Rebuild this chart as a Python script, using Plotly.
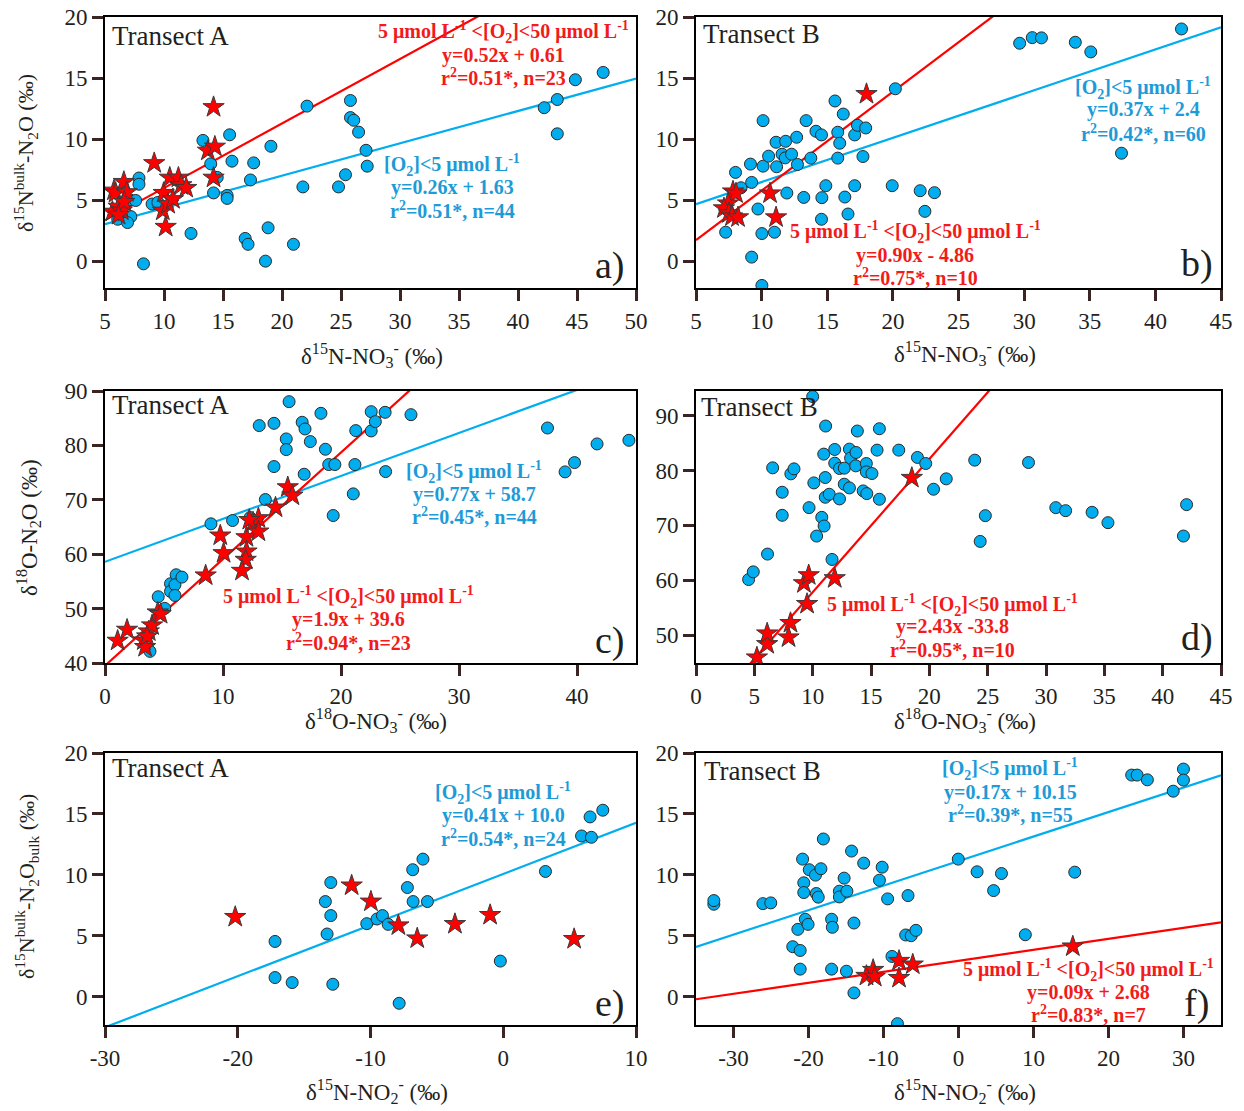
import plotly.graph_objects as go

W, H = 1244, 1111
FONT = "Liberation Serif, Times New Roman, serif"

# ---------------- data ----------------
# Panel a: d15N-NO3 vs d15Nbulk-N2O, Transect A
a_blue_x = [7.88, 7.88, 7.10, 7.60, 7.19, 6.42, 6.08, 6.91, 8.26, 8.99, 9.48, 12.29, 13.30, 13.96, 14.20,
            14.51, 15.56, 15.76, 15.35, 15.35, 16.88, 17.12, 17.33, 17.60, 18.60, 18.82, 19.06, 20.97,
            21.77, 22.12, 24.79, 25.38, 25.80, 25.80, 26.08, 26.49, 27.12, 27.22, 42.22, 43.33, 43.33,
            44.86, 47.22]
a_blue_y = [6.81, 6.30, 5.03, 4.97, 3.65, 3.65, 3.43, 3.16, -0.22, 4.68, 4.81, 2.27, 9.89, 7.97, 5.59,
            6.86, 10.35, 8.19, 5.38, 5.14, 1.86, 1.38, 6.65, 8.05, 0.00, 2.73, 9.41, 1.38,
            6.08, 12.70, 6.08, 7.08, 13.16, 11.76, 11.54, 10.57, 9.08, 7.78, 12.57, 13.24, 10.43,
            14.86, 15.46]
a_red_x = [5.63, 5.76, 5.90, 6.15, 6.42, 6.60, 6.84, 6.63, 6.15, 9.17, 9.97, 9.90, 10.14, 10.35, 10.76,
           10.49, 11.22, 11.46, 11.88, 13.72, 14.31, 14.20, 14.20]
a_red_y = [4.05, 5.78, 5.59, 4.46, 4.14, 6.49, 5.65, 4.86, 3.78, 8.03, 5.59, 4.14, 2.81, 4.68, 5.08,
           6.84, 6.84, 6.22, 6.00, 9.05, 9.38, 12.62, 6.84]

# Panel b: Transect B
b_blue_x = [7.26, 8.01, 8.43, 9.15, 9.24, 9.24, 9.72, 10.11, 10.11, 10.02, 10.02, 10.53, 11.10, 11.14,
            10.98, 11.56, 11.83, 11.80, 11.92, 12.28, 12.67, 12.73, 13.21, 13.39, 13.75, 14.14, 14.56,
            14.59, 14.56, 14.89, 15.59, 15.80, 15.95, 15.80, 16.22, 16.34, 16.58, 17.09, 17.30, 17.09,
            17.72, 17.93, 19.95, 20.19, 22.08, 22.44, 23.17, 29.66, 30.62, 31.32, 33.90, 35.08, 37.42,
            41.99]
b_blue_y = [2.37, 7.27, 6.01, 7.95, 6.45, 0.33, 4.27, 11.51, 7.78, 2.26, -1.99, 8.60, 9.74, 7.73,
            2.37, 8.76, 9.82, 8.46, 5.58, 8.76, 10.15, 7.92, 5.22, 11.51, 8.44, 10.64, 10.34,
            5.20, 3.43, 6.18, 13.12, 10.56, 9.66, 8.44, 12.05, 5.25, 3.86, 10.34, 11.13, 6.18,
            8.57, 10.91, 6.18, 14.12, 5.77, 4.08, 5.61, 17.85, 18.31, 18.29, 17.93, 17.14, 8.84,
            19.02]
b_red_x = [7.82, 8.05, 7.44, 7.13, 7.51, 7.74, 8.20, 10.64, 11.10, 17.99]
b_red_y = [5.71, 5.55, 4.73, 4.33, 3.92, 3.67, 3.59, 5.55, 3.59, 13.69]

# Panel c: d18O-NO3 vs d18O-N2O, Transect A
c_blue_x = [13.07, 14.32, 15.60, 15.36, 15.36, 14.32, 16.71, 16.95, 17.40, 16.88, 18.30, 18.68, 18.96,
            19.48, 19.34, 21.04, 21.25, 21.18, 22.56, 22.56, 22.91, 23.74, 23.78, 25.93, 37.50, 38.99,
            39.79, 41.70, 44.40, 8.98, 10.81, 12.30, 13.59, 4.51, 5.06, 5.55, 5.55, 6.03, 5.93, 5.93,
            6.52, 3.81]
c_blue_y = [83.64, 84.06, 88.04, 81.19, 79.23, 76.11, 84.25, 83.02, 80.70, 74.70, 85.90, 79.29, 76.48,
            76.48, 67.11, 71.09, 82.72, 76.48, 86.20, 82.66, 84.37, 86.08, 75.19, 85.65, 83.20, 75.13,
            76.84, 80.27, 80.94, 65.58, 66.19, 66.74, 70.05, 52.18, 50.04, 54.57, 53.16, 56.22, 54.38,
            52.42, 55.79, 42.14]
c_red_x = [1.07, 1.87, 3.29, 3.40, 3.71, 3.99, 4.47, 8.53, 9.77, 10.05, 11.99, 11.99, 11.92, 11.61,
           12.55, 13.00, 13.00, 14.45, 15.49, 15.88, 12.23, 3.57, 4.71]
c_red_y = [44.10, 46.12, 44.16, 42.94, 45.81, 46.92, 49.30, 56.10, 63.44, 60.20, 63.13, 60.50, 58.97,
           56.95, 65.83, 66.62, 64.17, 68.58, 72.31, 70.78, 66.30, 44.90, 49.00]

# Panel d: Transect B
d_blue_x = [4.51, 4.91, 6.13, 6.57, 7.39, 7.39, 8.13, 8.40, 9.69, 10.00, 10.10, 10.34, 10.78, 10.98,
            10.95, 11.11, 11.08, 11.08, 11.42, 11.66, 11.89, 11.89, 12.30, 12.30, 12.71, 12.71, 13.15,
            13.25, 13.15, 13.72, 13.69, 13.83, 14.60, 14.60, 14.33, 14.64, 15.08, 15.52, 15.72, 15.72,
            17.38, 18.98, 19.69, 20.36, 21.45, 23.89, 24.36, 24.80, 28.50, 30.84, 31.68, 33.95, 35.31,
            41.78, 42.05]
d_blue_y = [60.12, 61.52, 64.76, 80.49, 76.04, 71.83, 79.39, 80.30, 73.23, 93.48, 77.74, 68.05, 71.46,
            69.88, 82.99, 88.11, 78.72, 75.12, 75.67, 63.78, 83.84, 81.34, 80.37, 74.82, 80.43, 77.50,
            83.90, 82.26, 76.83, 83.29, 80.85, 87.20, 81.28, 79.76, 76.28, 75.79, 79.45, 83.72, 87.62,
            74.76, 83.72, 82.38, 81.28, 76.59, 78.48, 81.89, 67.07, 71.77, 81.46, 73.23, 72.68, 72.38,
            70.49, 68.05, 73.78]
d_red_x = [5.22, 6.10, 6.10, 7.93, 8.10, 9.52, 9.25, 9.66, 11.89, 18.50]
d_red_y = [45.91, 48.35, 50.30, 49.57, 52.20, 55.67, 59.45, 60.91, 60.37, 78.66]

# Panel e: d15N-NO2 vs d15Nbulk-N2O, Transect A
e_blue_x = [-17.19, -17.19, -15.90, -13.27, -13.40, -12.99, -12.99, -12.84, -10.28, -9.51, -9.10, -8.67,
            -7.84, -7.22, -6.82, -6.79, -6.05, -5.71, -0.22, 3.18, 5.90, 6.64, 6.54, 7.50]
e_blue_y = [4.55, 1.59, 1.18, 5.16, 7.82, 9.38, 6.67, 1.04, 6.01, 6.39, 6.67, 5.95,
            -0.52, 8.97, 10.43, 7.82, 11.30, 7.82, 2.94, 10.29, 13.20, 13.09, 14.76, 15.31]
e_red_x = [-20.19, -11.42, -9.97, -7.90, -6.48, -3.64, -0.99, 5.34]
e_red_y = [6.56, 9.14, 7.82, 5.87, 4.80, 5.98, 6.72, 4.75]

# Panel f: Transect B
f_blue_x = [-32.62, -32.62, -26.08, -25.03, -22.10, -21.11, -21.11, -21.42, -20.79, -20.63, -20.63,
            -20.42, -20.06, -19.90, -19.07, -18.96, -18.70, -18.34, -18.02, -16.92, -16.82, -16.92,
            -15.25, -15.88, -15.88, -14.88, -14.94, -14.26, -13.94, -13.94, -12.64, -10.54, -10.18,
            -9.45, -8.87, -8.14, -6.73, -7.04, -6.31, -5.68, -0.03, 2.48, 4.68, 5.73, 8.91, 15.50,
            23.09, 23.82, 25.18, 28.63, 29.99, 29.99]
f_blue_y = [7.60, 7.90, 7.65, 7.71, 4.12, 3.81, 2.28, 5.54, 11.30, 9.36, 8.56,
            6.37, 5.95, 10.43, 9.99, 8.48, 8.18, 10.51, 12.95, 6.37, 5.71, 2.28,
            9.74, 8.67, 8.20, 8.67, 2.11, 11.96, 6.06, 0.33, 10.97, 9.57, 10.64,
            8.04, 3.32, -2.19, 8.31, 5.08, 5.02, 5.46, 11.30, 10.26, 8.72, 10.12, 5.10, 10.23,
            18.19, 18.19, 17.80, 16.87, 18.68, 17.78]
f_red_x = [-12.27, -11.38, -11.17, -7.93, -7.93, -6.10, 15.24]
f_red_y = [1.73, 2.22, 1.65, 2.96, 1.56, 2.66, 4.14]

# regression lines as drawn (slope, intercept)
a_blue_fit = [0.265, 1.70]
a_red_fit = [0.528, 0.72]
b_blue_fit = [0.362, 2.86]
b_red_fit = [0.81, -2.32]
c_blue_fit = [0.79, 58.6]
c_red_fit = [1.96, 39.5]
d_red_fit = [2.43, 33.5]
e_blue_fit = [0.419, 10.08]
f_blue_fit = [0.201, 11.14]
f_red_fit = [0.09, 2.96]

# axis ranges / ticks
a_xrange, a_yrange, a_xticks, a_yticks = [5, 50], [-2.2, 20], list(range(5, 51, 5)), list(range(0, 21, 5))
b_xrange, b_yrange, b_xticks, b_yticks = [5, 45], [-2.2, 20], list(range(5, 46, 5)), list(range(0, 21, 5))
c_xrange, c_yrange, c_xticks, c_yticks = [0, 45], [40, 90], list(range(0, 41, 10)), list(range(40, 91, 10))
d_xrange, d_yrange, d_xticks, d_yticks = [0, 45], [44.9, 94.5], list(range(0, 46, 5)), list(range(50, 91, 10))
e_xrange, e_yrange, e_xticks, e_yticks = [-30, 10], [-2.3, 20], list(range(-30, 11, 10)), list(range(0, 21, 5))
f_xrange, f_yrange, f_xticks, f_yticks = [-35, 35], [-2.3, 20], list(range(-30, 31, 10)), list(range(0, 21, 5))

# ---------------- styling ----------------
BLUE = "#00aeef"
BLUE_TXT = "#1e9bd7"
RED = "#ff0000"
RED_TXT = "#f21b1b"
DARK = "#231f20"

LEFT = [105 / W, 636 / W]
RIGHT = [696 / W, 1221 / W]
ROW1 = [1 - 288 / H, 1 - 17 / H]
ROW2 = [1 - 663 / H, 1 - 391 / H]
ROW3 = [1 - 1025 / H, 1 - 753 / H]

fig = go.Figure()

panels = [
    (1, LEFT, ROW1, a_xrange, a_yrange, a_xticks, a_yticks, a_blue_x, a_blue_y, a_red_x, a_red_y, [a_blue_fit], [a_red_fit]),
    (2, RIGHT, ROW1, b_xrange, b_yrange, b_xticks, b_yticks, b_blue_x, b_blue_y, b_red_x, b_red_y, [b_blue_fit], [b_red_fit]),
    (3, LEFT, ROW2, c_xrange, c_yrange, c_xticks, c_yticks, c_blue_x, c_blue_y, c_red_x, c_red_y, [c_blue_fit], [c_red_fit]),
    (4, RIGHT, ROW2, d_xrange, d_yrange, d_xticks, d_yticks, d_blue_x, d_blue_y, d_red_x, d_red_y, [], [d_red_fit]),
    (5, LEFT, ROW3, e_xrange, e_yrange, e_xticks, e_yticks, e_blue_x, e_blue_y, e_red_x, e_red_y, [e_blue_fit], []),
    (6, RIGHT, ROW3, f_xrange, f_yrange, f_xticks, f_yticks, f_blue_x, f_blue_y, f_red_x, f_red_y, [f_blue_fit], [f_red_fit]),
]

axis_common = dict(
    showline=True, linecolor="black", linewidth=2, mirror=True,
    ticks="outside", ticklen=11, tickwidth=2.5, tickcolor="#3b2424",
    showgrid=False, zeroline=False, automargin=False,
    tickfont=dict(family=FONT, size=23, color=DARK),
)

layout_axes = {}
for (i, xd, yd, xr, yr, xt, yt, bx, by, rx, ry, bfits, rfits) in panels:
    xa = "x" if i == 1 else f"x{i}"
    ya = "y" if i == 1 else f"y{i}"
    for (m, c) in bfits:
        fig.add_trace(go.Scatter(x=xr, y=[m * v + c for v in xr], mode="lines",
                                 line=dict(color=BLUE, width=2.2), xaxis=xa, yaxis=ya,
                                 showlegend=False, hoverinfo="skip"))
    for (m, c) in rfits:
        fig.add_trace(go.Scatter(x=xr, y=[m * v + c for v in xr], mode="lines",
                                 line=dict(color=RED, width=2.2), xaxis=xa, yaxis=ya,
                                 showlegend=False, hoverinfo="skip"))
    fig.add_trace(go.Scatter(x=bx, y=by, mode="markers",
                             marker=dict(symbol="circle", size=12, color=BLUE,
                                         line=dict(color="#2a2a2a", width=1)),
                             xaxis=xa, yaxis=ya, showlegend=False))
    fig.add_trace(go.Scatter(x=rx, y=ry, mode="markers",
                             marker=dict(symbol="star", size=16, color=RED,
                                         line=dict(color="#3a3a3a", width=1)),
                             xaxis=xa, yaxis=ya, showlegend=False))
    layout_axes["xaxis" if i == 1 else f"xaxis{i}"] = dict(
        axis_common, domain=xd, range=xr, tickmode="array", tickvals=xt,
        ticktext=[str(v) for v in xt], anchor=ya)
    layout_axes["yaxis" if i == 1 else f"yaxis{i}"] = dict(
        axis_common, domain=yd, range=yr, tickmode="array", tickvals=yt,
        ticktext=[str(v) for v in yt], anchor=xa)

annotations = []


def txt(px, py, text, color=DARK, size=20, xanchor="center", angle=0):
    annotations.append(dict(
        x=px / W, y=1 - py / H, xref="paper", yref="paper", text=text,
        showarrow=False, xanchor=xanchor, yanchor="middle", textangle=angle,
        font=dict(family=FONT, size=size, color=color)))


O2_RED = "<b>5 μmol L<sup>-1</sup> &lt;[O<sub>2</sub>]&lt;50 μmol L<sup>-1</sup></b>"
O2_BLUE = "<b>[O<sub>2</sub>]&lt;5 μmol L<sup>-1</sup></b>"
TS = 20
TR = 27

# panel a
txt(110, 36, "Transect A", size=TR, xanchor="left")
txt(503, 32, O2_RED, RED_TXT, TS)
txt(503, 55, "<b>y=0.52x + 0.61</b>", RED_TXT, TS)
txt(503, 77, "<b>r<sup>2</sup>=0.51*, n=23</b>", RED_TXT, TS)
txt(452, 165, O2_BLUE, BLUE_TXT, TS)
txt(452, 188, "<b>y=0.26x + 1.63</b>", BLUE_TXT, TS)
txt(452, 210, "<b>r<sup>2</sup>=0.51*, n=44</b>", BLUE_TXT, TS)
txt(627, 265, "a)", size=38, xanchor="right")
# panel b
txt(701, 34, "Transect B", size=TR, xanchor="left")
txt(1143, 88, O2_BLUE, BLUE_TXT, TS)
txt(1143, 110, "<b>y=0.37x + 2.4</b>", BLUE_TXT, TS)
txt(1143, 133, "<b>r<sup>2</sup>=0.42*, n=60</b>", BLUE_TXT, TS)
txt(915, 232, O2_RED, RED_TXT, TS)
txt(915, 255, "<b>y=0.90x - 4.86</b>", RED_TXT, TS)
txt(915, 277, "<b>r<sup>2</sup>=0.75*, n=10</b>", RED_TXT, TS)
txt(1215, 263, "b)", size=38, xanchor="right")
# panel c
txt(110, 405, "Transect A", size=TR, xanchor="left")
txt(474, 472, O2_BLUE, BLUE_TXT, TS)
txt(474, 494, "<b>y=0.77x + 58.7</b>", BLUE_TXT, TS)
txt(474, 516, "<b>r<sup>2</sup>=0.45*, n=44</b>", BLUE_TXT, TS)
txt(349, 597, O2_RED, RED_TXT, TS)
txt(349, 619, "<b>y=1.9x + 39.6</b>", RED_TXT, TS)
txt(349, 642, "<b>r<sup>2</sup>=0.94*, n=23</b>", RED_TXT, TS)
txt(627, 640, "c)", size=38, xanchor="right")
# panel d
txt(699, 407, "Transect B", size=TR, xanchor="left")
txt(952, 605, O2_RED, RED_TXT, TS)
txt(952, 627, "<b>y=2.43x -33.8</b>", RED_TXT, TS)
txt(952, 649, "<b>r<sup>2</sup>=0.95*, n=10</b>", RED_TXT, TS)
txt(1215, 637, "d)", size=38, xanchor="right")
# panel e
txt(110, 768, "Transect A", size=TR, xanchor="left")
txt(503, 793, O2_BLUE, BLUE_TXT, TS)
txt(503, 815, "<b>y=0.41x + 10.0</b>", BLUE_TXT, TS)
txt(503, 838, "<b>r<sup>2</sup>=0.54*, n=24</b>", BLUE_TXT, TS)
txt(627, 1003, "e)", size=38, xanchor="right")
# panel f
txt(702, 771, "Transect B", size=TR, xanchor="left")
txt(1010, 769, O2_BLUE, BLUE_TXT, TS)
txt(1010, 792, "<b>y=0.17x + 10.15</b>", BLUE_TXT, TS)
txt(1010, 814, "<b>r<sup>2</sup>=0.39*, n=55</b>", BLUE_TXT, TS)
txt(1088, 970, O2_RED, RED_TXT, TS)
txt(1088, 992, "<b>y=0.09x + 2.68</b>", RED_TXT, TS)
txt(1088, 1014, "<b>r<sup>2</sup>=0.83*, n=7</b>", RED_TXT, TS)
txt(1211, 1003, "f)", size=38, xanchor="right")

# axis titles
XT15_3 = "δ<sup>15</sup>N-NO<sub>3</sub><sup>-</sup> (‰)"
XT18_3 = "δ<sup>18</sup>O-NO<sub>3</sub><sup>-</sup> (‰)"
XT15_2 = "δ<sup>15</sup>N-NO<sub>2</sub><sup>-</sup> (‰)"
txt(372, 355, XT15_3, size=23)
txt(965, 353, XT15_3, size=23)
txt(376, 720, XT18_3, size=23)
txt(965, 720, XT18_3, size=23)
txt(377, 1091, XT15_2, size=23)
txt(965, 1091, XT15_2, size=23)
txt(26, 153, "δ<sup>15</sup>N<sup>bulk</sup>-N<sub>2</sub>O (‰)", size=22, angle=-90)
txt(28, 528, "δ<sup>18</sup>O-N<sub>2</sub>O (‰)", size=23, angle=-90)
txt(26, 887, "δ<sup>15</sup>N<sup>bulk</sup>-N<sub>2</sub>O<sub>bulk</sub> (‰)", size=22, angle=-90)

fig.update_layout(
    template="none",
    width=W, height=H,
    margin=dict(l=0, r=0, t=0, b=0),
    paper_bgcolor="white", plot_bgcolor="white",
    showlegend=False,
    annotations=annotations,
    **layout_axes,
)

fig.write_html("out.html", config={"displayModeBar": False},
               post_script="document.body.style.margin='0';")
